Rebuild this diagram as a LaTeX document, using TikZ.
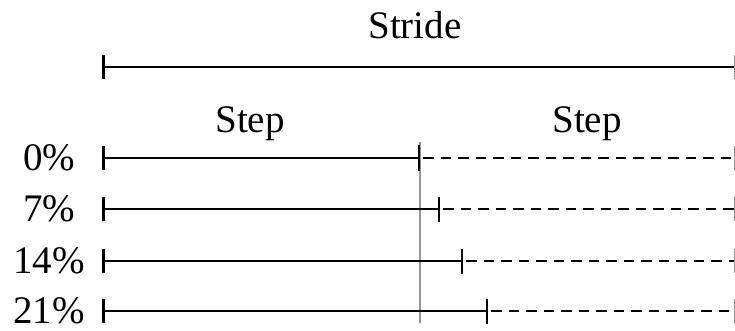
\documentclass[tikz,border=0pt]{standalone}
\usepackage{fontspec}
\setmainfont{Liberation Serif}
\definecolor{midgray}{RGB}{150,150,150}
\begin{document}
\begin{tikzpicture}[x=1pt,y=-1pt,
  lbl/.style={font=\fontsize{39}{39}\selectfont, anchor=base, inner sep=0pt},
  bar/.style={line width=2.4pt, black},
  dashbar/.style={line width=2.4pt, black, dash pattern=on 10.5pt off 7pt},
  tickmark/.style={line width=2.4pt, black},
  edgetick/.style={line width=2.4pt, midgray},
  guide/.style={line width=2.2pt, midgray}]
\useasboundingbox (0,0) rectangle (735,331);

% guide line
\coordinate (gtop) at (420,142);
\coordinate (gbot) at (420,323);
\draw[guide] (gtop) -- (gbot);

% stride
\node[lbl] (stride) at (415,39) {Stride};
\coordinate (s0) at (103.5,67);
\coordinate (s1) at (735.5,67);
\draw[bar] (s0) -- (s1);
\draw[tickmark] (s0) ++(0,-12) -- ++(0,24);
\draw[edgetick] (s1) ++(0,-12) -- ++(0,24);

% step labels
\node[lbl] (step1) at (250,133) {Step};
\node[lbl] (step2) at (587,133) {Step};

% rows
\foreach \y/\xt/\t/\n in {158/419/0\%/a, 209/439/7\%/b, 261/462/14\%/c, 311/487/21\%/d}{
  \node[lbl] (lab\n) at (49,\y+12) {\t};
  \coordinate (l\n) at (103.5,\y);
  \coordinate (m\n) at (\xt,\y);
  \coordinate (md\n) at (\xt+4,\y);
  \coordinate (r\n) at (735.5,\y);
  \draw[bar] (l\n) -- (m\n);
  \draw[dashbar] (md\n) -- (r\n);
  \draw[tickmark] (l\n) ++(0,-12) -- ++(0,24);
  \draw[tickmark] (m\n) ++(0,-12.5) -- ++(0,25);
  \draw[edgetick] (r\n) ++(0,-12) -- ++(0,24);
}
\end{tikzpicture}
\end{document}
